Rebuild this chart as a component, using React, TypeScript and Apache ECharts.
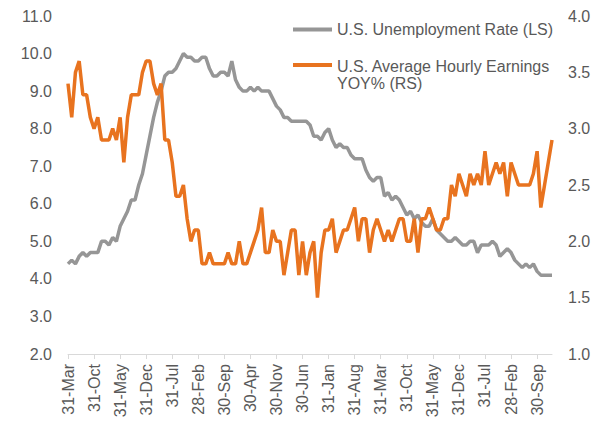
import React, { useEffect, useRef } from "react";
import * as echarts from "echarts";

// Monthly observations, Mar 2007 .. Jan 2018
const startYear = 2007;
const startMonth = 2; // March (0-based)
const monthNames = ["Jan", "Feb", "Mar", "Apr", "May", "Jun", "Jul", "Aug", "Sep", "Oct", "Nov", "Dec"];

const unemploymentRate = [
  4.4, 4.5, 4.4, 4.6, 4.7, 4.6, 4.7, 4.7, 4.7, 5.0,
  5.0, 4.9, 5.1, 5.0, 5.4, 5.6, 5.8, 6.1, 6.1, 6.5, 6.8, 7.3,
  7.8, 8.3, 8.7, 9.0, 9.4, 9.5, 9.5, 9.6, 9.8, 10.0, 9.9, 9.9,
  9.8, 9.8, 9.9, 9.9, 9.6, 9.4, 9.4, 9.5, 9.5, 9.4, 9.8, 9.3,
  9.1, 9.0, 9.0, 9.1, 9.0, 9.1, 9.0, 9.0, 9.0, 8.8, 8.6, 8.5,
  8.3, 8.3, 8.2, 8.2, 8.2, 8.2, 8.2, 8.1, 7.8, 7.8, 7.7, 7.9,
  8.0, 7.7, 7.5, 7.6, 7.5, 7.5, 7.3, 7.2, 7.2, 7.2, 6.9, 6.7,
  6.6, 6.7, 6.7, 6.2, 6.3, 6.1, 6.2, 6.1, 5.9, 5.7, 5.8, 5.6,
  5.7, 5.5, 5.4, 5.4, 5.6, 5.3, 5.2, 5.1, 5.0, 5.0, 5.1, 5.0,
  4.9, 4.9, 5.0, 5.0, 4.7, 4.9, 4.9, 4.9, 5.0, 4.9, 4.6, 4.7,
  4.8, 4.7, 4.5, 4.4, 4.3, 4.4, 4.3, 4.4, 4.2, 4.1, 4.1, 4.1,
  4.1,
];

const hourlyEarningsYoY = [
  3.4, 3.1, 3.5, 3.6, 3.3, 3.3, 3.1, 3.0, 3.1, 2.9,
  2.9, 2.9, 3.0, 2.9, 3.1, 2.7, 3.1, 3.3, 3.3, 3.3, 3.5, 3.6,
  3.6, 3.4, 3.3, 3.4, 2.9, 2.9, 2.7, 2.4, 2.4, 2.5, 2.2, 2.0,
  2.1, 2.1, 1.8, 1.8, 1.9, 1.8, 1.8, 1.8, 1.8, 1.9, 1.8, 1.8,
  2.0, 1.8, 1.8, 1.9, 2.0, 2.1, 2.3, 1.9, 1.9, 2.1, 2.0, 2.0,
  1.7, 1.9, 2.1, 2.1, 1.7, 2.0, 1.7, 1.9, 2.0, 1.5, 1.9, 2.1,
  2.1, 2.2, 1.9, 2.0, 2.1, 2.1, 2.2, 2.3, 2.0, 2.2, 2.2, 1.9,
  2.1, 2.2, 2.1, 2.0, 2.1, 2.0, 2.1, 2.2, 2.2, 2.0, 2.0, 2.2,
  1.9, 2.2, 2.2, 2.3, 2.2, 2.1, 2.1, 2.2, 2.2, 2.5, 2.4, 2.6,
  2.5, 2.4, 2.6, 2.5, 2.6, 2.5, 2.8, 2.5, 2.6, 2.7, 2.6, 2.7,
  2.4, 2.7, 2.6, 2.5, 2.5, 2.5, 2.5, 2.6, 2.8, 2.3, 2.5, 2.7,
  2.9,
];

const seriesNames = ["U.S. Unemployment Rate (LS)", "U.S. Average Hourly Earnings\nYOY% (RS)"];

const categories: string[] = unemploymentRate.map((_, i) => {
  const m = (startMonth + i) % 12;
  const y = startYear + Math.floor((startMonth + i) / 12);
  const day = new Date(y, m + 1, 0).getDate();
  return `${day}-${monthNames[m]}-${String(y).slice(2)}`;
});

const GRAY = "#969696";
const ORANGE = "#E8731F";
const TEXT = "#595959";
const FONT = "'Liberation Sans', Arial, sans-serif";

export default function App() {
  const ref = useRef<HTMLDivElement>(null);

  useEffect(() => {
    if (!ref.current) return;
    const chart = echarts.init(ref.current, undefined, { renderer: "svg" });
    chart.setOption({
      animation: false,
      textStyle: { fontFamily: FONT },
      grid: { left: 68, right: 57, top: 16, bottom: 69, containLabel: false },
      xAxis: {
        type: "category",
        data: categories,
        boundaryGap: false,
        axisLine: { show: true, lineStyle: { color: "#d9d9d9", width: 1 } },
        axisTick: { show: true, interval: 6, length: 5, lineStyle: { color: "#d9d9d9" } },
        axisLabel: {
          interval: 6,
          rotate: 90,
          margin: 10,
          color: TEXT,
          fontSize: 16,
          fontFamily: FONT,
          formatter: (v: string) => v.slice(0, v.lastIndexOf("-")),
        },
        splitLine: { show: false },
      },
      yAxis: [
        {
          type: "value",
          min: 2,
          max: 11,
          interval: 1,
          axisLine: { show: false },
          axisTick: { show: false },
          splitLine: { show: false },
          axisLabel: {
            color: TEXT,
            fontSize: 16,
            fontFamily: FONT,
            margin: 16,
            formatter: (v: number) => v.toFixed(1),
          },
        },
        {
          type: "value",
          min: 1,
          max: 4,
          interval: 0.5,
          axisLine: { show: false },
          axisTick: { show: false },
          splitLine: { show: false },
          axisLabel: {
            color: TEXT,
            fontSize: 16,
            fontFamily: FONT,
            margin: 16,
            formatter: (v: number) => v.toFixed(1),
          },
        },
      ],
      series: [
        {
          name: seriesNames[0],
          type: "line",
          yAxisIndex: 0,
          data: unemploymentRate,
          symbol: "none",
          lineStyle: { color: GRAY, width: 3.5 },
          itemStyle: { color: GRAY },
        },
        {
          name: seriesNames[1],
          type: "line",
          yAxisIndex: 1,
          data: hourlyEarningsYoY,
          symbol: "none",
          lineStyle: { color: ORANGE, width: 3.5 },
          itemStyle: { color: ORANGE },
          z: 3,
        },
      ],
      graphic: [
        {
          type: "line",
          shape: { x1: 293, y1: 29.5, x2: 332, y2: 29.5 },
          style: { stroke: GRAY, lineWidth: 4 },
        },
        {
          type: "text",
          x: 337,
          y: 29.5,
          style: {
            text: seriesNames[0],
            fill: TEXT,
            fontSize: 16,
            fontFamily: FONT,
            verticalAlign: "middle",
            align: "left",
          },
        },
        {
          type: "line",
          shape: { x1: 293, y1: 65, x2: 332, y2: 65 },
          style: { stroke: ORANGE, lineWidth: 4 },
        },
        {
          type: "text",
          x: 337,
          y: 58,
          style: {
            text: seriesNames[1],
            fill: TEXT,
            fontSize: 16,
            lineHeight: 17,
            fontFamily: FONT,
            verticalAlign: "top",
            align: "left",
          },
        },
      ],
    });
    return () => chart.dispose();
  }, []);

  return (
    <div
      ref={ref}
      style={{ position: "fixed", left: 0, top: 0, width: 609, height: 423, background: "#fff" }}
    />
  );
}
